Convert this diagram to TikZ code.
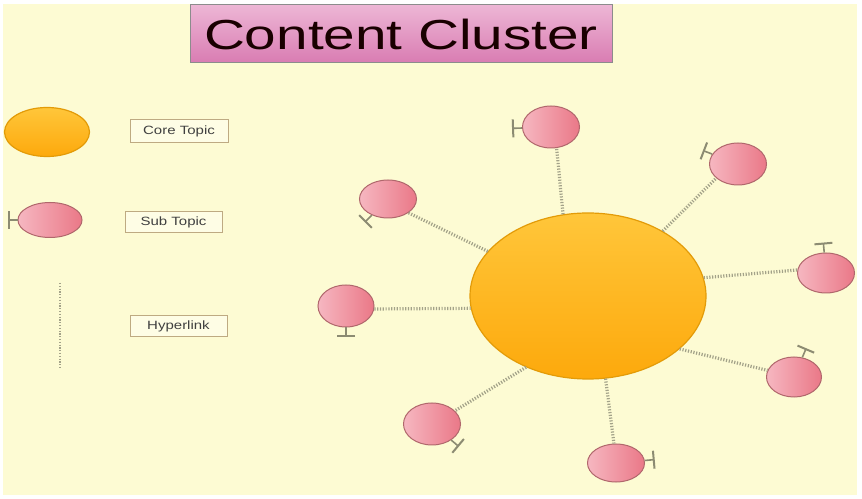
\documentclass[tikz,border=0pt]{standalone}
\usepackage{fontspec}
\usepackage{tikz}
\usetikzlibrary{shapes.geometric, arrows.meta}
\newfontfamily\titlesans[FakeStretch=1.35]{Liberation Sans}
\newfontfamily\keysans[FakeStretch=1.25]{Liberation Sans}

\definecolor{paper}{HTML}{FDFBD3}
\definecolor{coreTop}{HTML}{FFC63A}
\definecolor{coreBot}{HTML}{FDA90C}
\definecolor{coreLine}{HTML}{E39B08}
\definecolor{subLight}{HTML}{F6B7C1}
\definecolor{subDark}{HTML}{EA7887}
\definecolor{subLine}{HTML}{B0676C}
\definecolor{linkGray}{HTML}{A3A289}
\definecolor{stemGray}{HTML}{8C8B72}
\definecolor{titleTop}{HTML}{EDB6D5}
\definecolor{titleBot}{HTML}{D97CB2}

\begin{document}
\begin{tikzpicture}[
        x=1pt, y=1pt,
        core/.style     ={ellipse, draw=coreLine, line width=1.2pt, inner sep=0pt,
                          top color=coreTop, bottom color=coreBot},
        sub/.style      ={ellipse, draw=subLine, line width=1pt, inner sep=0pt,
                          left color=subLight, right color=subDark,
                          minimum width=57pt, minimum height=40pt},
        key/.style      ={draw=black!25!paper!70!brown, fill=white!40!paper, line width=1pt,
                          inner sep=0pt, minimum width=97pt, minimum height=21pt,
                          font=\keysans\fontsize{12}{12}\selectfont, text=black!75},
        link/.style     ={linkGray, line width=3.2pt, dash pattern=on 1.2pt off 1.6pt},
        stem/.style     ={stemGray, line width=1.6pt, -{Bar[width=18pt, line width=2pt]}}
    ]
      \useasboundingbox (0,0) rectangle (862,498);
      \fill[white] (0,0) rectangle (862,498);
      \fill[paper] (3,3) rectangle (857,494);

      % ===== TITLE =====
      \node[draw=black!45, line width=1pt, top color=titleTop, bottom color=titleBot,
            minimum width=422pt, minimum height=58pt, inner sep=0pt,
            font=\titlesans\fontsize{42}{42}\selectfont, text=black!90!red]
            (title) at (401,464) {Content Cluster};

      % ===== LEGEND =====
      \node[core, minimum width=85pt, minimum height=49pt] (kcore) at (47,366) {};
      \node[key, minimum width=98pt, minimum height=23pt]  (kcoretxt) at (179,366.5) {Core Topic};
      \node[sub, minimum width=64pt, minimum height=35pt]  (ksub) at (50,278) {};
      \node[key]                                           (ksubtxt) at (173.5,275.5) {Sub Topic};
      \coordinate (klinktop) at (60,215);
      \coordinate (klinkbot) at (60,130);
      \draw[link, line width=2pt] (klinktop) -- (klinkbot);
      \node[key]                                           (klinktxt) at (178.5,171.5) {Hyperlink};

      % ===== CLUSTER =====
      \node[core, minimum width=236pt, minimum height=166pt] (core) at (588,202) {};
      \node[sub, minimum height=42pt] (s1) at (551,371) {};
      \node[sub, minimum height=42pt] (s2) at (738,334) {};
      \node[sub]                      (s3) at (826,225) {};
      \node[sub, minimum width=55pt]  (s4) at (794,121) {};
      \node[sub, minimum height=38pt] (s5) at (616,35)  {};
      \node[sub, minimum height=42pt] (s6) at (432,74)  {};
      \node[sub, minimum height=42pt, minimum width=56pt] (s7) at (346,192) {};
      \node[sub, minimum height=38pt] (s8) at (388,299) {};

      % hyperlinks from the core to every sub topic
      \foreach \s/\a/\b in {s1/107/285, s2/41/213, s3/9/174, s4/330/166,
                            s5/282/96, s6/229/30, s7/186/354, s8/156/326}
        \draw[link] (core.\a) -- (\s.\b);

      % stems with end bars
      \foreach \s/\a in {ksub/180, s1/182, s2/159, s3/95, s4/67,
                         s5/5, s6/320, s7/270, s8/225}
        \draw[stem] (\s.\a) -- ++(\a:10);
    \end{tikzpicture}
\end{document}
